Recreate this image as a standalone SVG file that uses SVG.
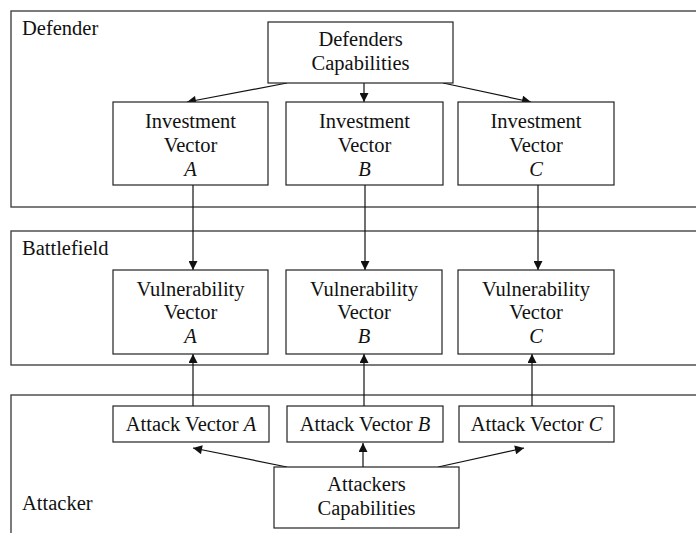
<svg xmlns="http://www.w3.org/2000/svg" width="696" height="533" viewBox="0 0 696 533">
<style>
.frame{fill:none;stroke:#444;stroke-width:1.4}
.box{fill:#fff;stroke:#222;stroke-width:1.2}
text{font-family:"Liberation Serif","Times New Roman",serif;font-size:20.5px;fill:#111}
.c{text-anchor:middle}
.i{font-style:italic}
.conn{stroke:#111;stroke-width:1.2;fill:none}
</style>
<defs>
<marker id="ah" viewBox="0 0 10 10" refX="10" refY="5" markerWidth="10" markerHeight="9" markerUnits="userSpaceOnUse" orient="auto">
<path d="M0,0 L10,5 L0,10 z" fill="#111"/>
</marker>
</defs>
<rect x="0" y="0" width="696" height="533" fill="#fff"/>
<g id="defender-frame">
<rect class="frame" x="11" y="11" width="700" height="196"/>
<text x="22" y="35">Defender</text>
</g>
<g id="battlefield-frame">
<rect class="frame" x="11" y="231" width="700" height="134"/>
<text x="22" y="255">Battlefield</text>
</g>
<g id="attacker-frame">
<rect class="frame" x="11" y="395" width="700" height="160"/>
<text x="22" y="510">Attacker</text>
</g>
<g id="connectors">
<line class="conn" x1="287" y1="83" x2="187" y2="102" marker-end="url(#ah)"/>
<line class="conn" x1="364" y1="83" x2="364" y2="102" marker-end="url(#ah)"/>
<line class="conn" x1="443" y1="83" x2="531" y2="102" marker-end="url(#ah)"/>
<line class="conn" x1="193" y1="185" x2="193" y2="270" marker-end="url(#ah)"/>
<line class="conn" x1="365" y1="185" x2="365" y2="270" marker-end="url(#ah)"/>
<line class="conn" x1="538" y1="185" x2="538" y2="270" marker-end="url(#ah)"/>
<line class="conn" x1="193" y1="406" x2="193" y2="354" marker-end="url(#ah)"/>
<line class="conn" x1="364" y1="406" x2="364" y2="354" marker-end="url(#ah)"/>
<line class="conn" x1="532" y1="406" x2="532" y2="354" marker-end="url(#ah)"/>
<line class="conn" x1="287" y1="467" x2="193" y2="448" marker-end="url(#ah)"/>
<line class="conn" x1="363" y1="467" x2="363" y2="443" marker-end="url(#ah)"/>
<line class="conn" x1="438" y1="467" x2="524" y2="448" marker-end="url(#ah)"/>
</g>
<g id="defenders-capabilities">
<rect class="box" x="268" y="22" width="185" height="61"/>
<text class="c" x="360.5" y="46">Defenders</text>
<text class="c" x="360.5" y="70">Capabilities</text>
</g>
<g id="investment-a">
<rect class="box" x="113" y="102" width="155" height="83"/>
<text class="c" x="190.5" y="128">Investment</text>
<text class="c" x="190.5" y="152">Vector</text>
<text class="c i" x="190.5" y="176">A</text>
</g>
<g id="investment-b">
<rect class="box" x="286" y="102" width="157" height="83"/>
<text class="c" x="364.5" y="128">Investment</text>
<text class="c" x="364.5" y="152">Vector</text>
<text class="c i" x="364.5" y="176">B</text>
</g>
<g id="investment-c">
<rect class="box" x="458" y="102" width="156" height="83"/>
<text class="c" x="536" y="128">Investment</text>
<text class="c" x="536" y="152">Vector</text>
<text class="c i" x="536" y="176">C</text>
</g>
<g id="vulnerability-a">
<rect class="box" x="113" y="270" width="155" height="84"/>
<text class="c" x="190.5" y="296">Vulnerability</text>
<text class="c" x="190.5" y="319">Vector</text>
<text class="c i" x="190.5" y="343">A</text>
</g>
<g id="vulnerability-b">
<rect class="box" x="286" y="270" width="156" height="84"/>
<text class="c" x="364" y="296">Vulnerability</text>
<text class="c" x="364" y="319">Vector</text>
<text class="c i" x="364" y="343">B</text>
</g>
<g id="vulnerability-c">
<rect class="box" x="458" y="270" width="156" height="84"/>
<text class="c" x="536" y="296">Vulnerability</text>
<text class="c" x="536" y="319">Vector</text>
<text class="c i" x="536" y="343">C</text>
</g>
<g id="attack-a">
<rect class="box" x="113" y="406" width="156" height="36"/>
<text class="c" x="191" y="431">Attack Vector <tspan class="i">A</tspan></text>
</g>
<g id="attack-b">
<rect class="box" x="287" y="406" width="156" height="36"/>
<text class="c" x="365" y="431">Attack Vector <tspan class="i">B</tspan></text>
</g>
<g id="attack-c">
<rect class="box" x="459" y="406" width="155" height="36"/>
<text class="c" x="536.5" y="431">Attack Vector <tspan class="i">C</tspan></text>
</g>
<g id="attackers-capabilities">
<rect class="box" x="274" y="467" width="185" height="61"/>
<text class="c" x="366.5" y="491">Attackers</text>
<text class="c" x="366.5" y="515">Capabilities</text>
</g>
</svg>
